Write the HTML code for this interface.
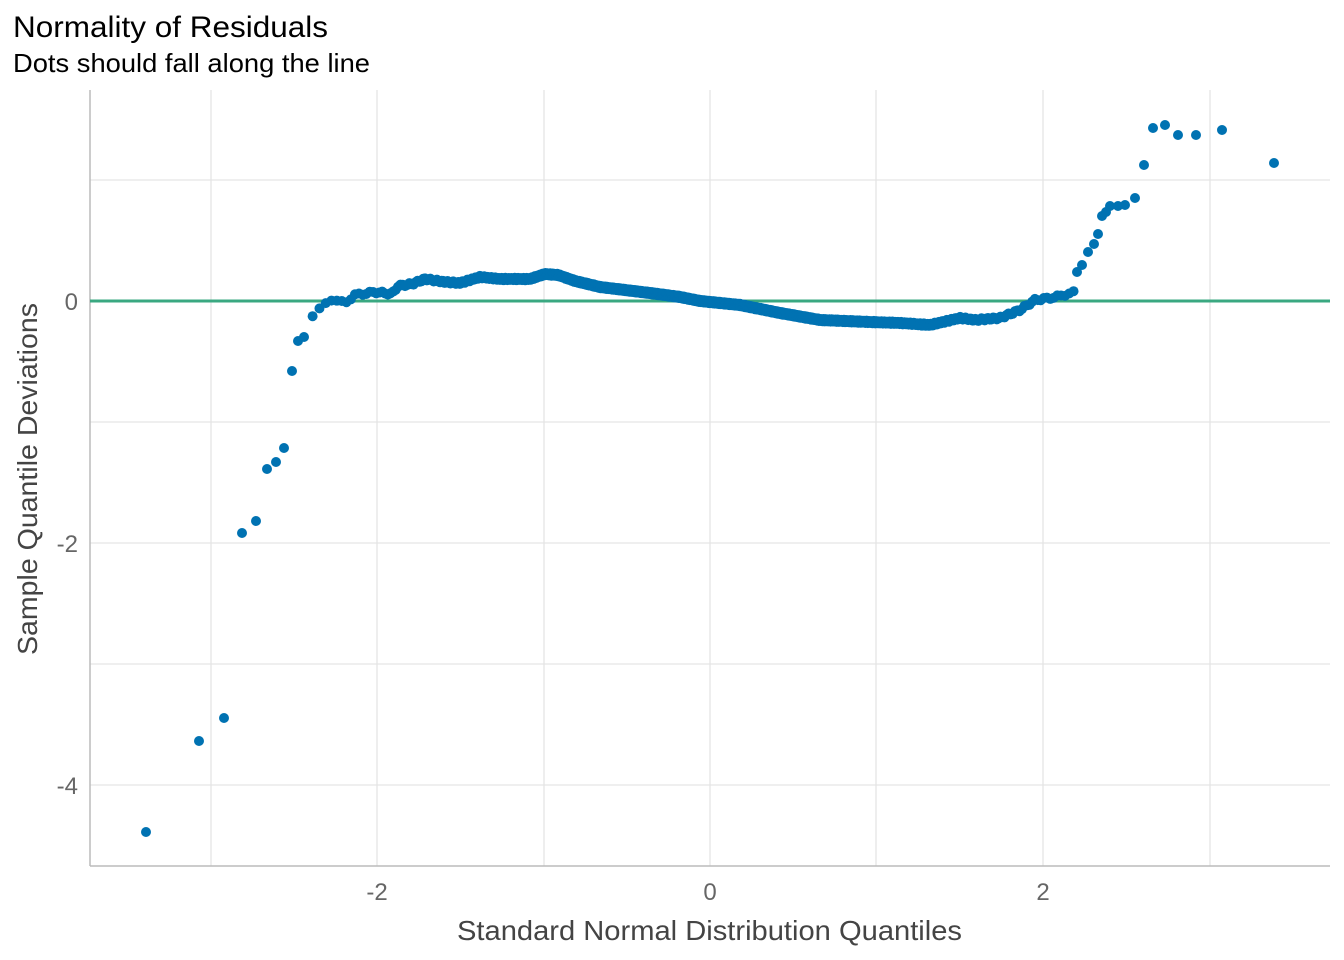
<!DOCTYPE html><html><head><style>body{margin:0;background:#fff}svg{display:block}text{font-family:"Liberation Sans",sans-serif}</style></head><body>
<svg id="s" width="1344" height="960" xmlns="http://www.w3.org/2000/svg">
<rect width="1344" height="960" fill="#fff"/>
<g stroke="#e5e5e5" stroke-width="1.3">
<line x1="211" y1="90" x2="211" y2="866"/><line x1="377" y1="90" x2="377" y2="866"/><line x1="544" y1="90" x2="544" y2="866"/><line x1="710" y1="90" x2="710" y2="866"/><line x1="876" y1="90" x2="876" y2="866"/><line x1="1043" y1="90" x2="1043" y2="866"/><line x1="1210" y1="90" x2="1210" y2="866"/>
<line x1="90" y1="180" x2="1330" y2="180"/><line x1="90" y1="301" x2="1330" y2="301"/><line x1="90" y1="422" x2="1330" y2="422"/><line x1="90" y1="543" x2="1330" y2="543"/><line x1="90" y1="664" x2="1330" y2="664"/><line x1="90" y1="785" x2="1330" y2="785"/>
</g>
<line x1="90" y1="90" x2="90" y2="866" stroke="#bbb" stroke-width="1.5"/>
<line x1="90" y1="866" x2="1330" y2="866" stroke="#bbb" stroke-width="1.5"/>
<line x1="90" y1="301" x2="1330" y2="301" stroke="#3aa881" stroke-width="3"/>
<g id="pts" fill="#0072b2"></g>
<g fill="#666" font-size="24">
<text x="377" y="900" text-anchor="middle">-2</text><text x="710" y="900" text-anchor="middle">0</text><text x="1043" y="900" text-anchor="middle">2</text>
<text x="78" y="310" text-anchor="end">0</text><text x="78" y="552" text-anchor="end">-2</text><text x="78" y="794" text-anchor="end">-4</text>
</g>
<text x="457" y="940" font-size="28" fill="#444" textLength="505" lengthAdjust="spacingAndGlyphs">Standard Normal Distribution Quantiles</text>
<text transform="translate(37,655) rotate(-90)" font-size="28" fill="#444" textLength="352" lengthAdjust="spacingAndGlyphs">Sample Quantile Deviations</text>
<text x="13" y="37" font-size="30" fill="#000" textLength="315" lengthAdjust="spacingAndGlyphs">Normality of Residuals</text>
<text x="13" y="72" font-size="26" fill="#000" textLength="357" lengthAdjust="spacingAndGlyphs">Dots should fall along the line</text>
</svg>
<script>
var g=document.getElementById('pts'),ns='http://www.w3.org/2000/svg';
function dot(x,y){var c=document.createElementNS(ns,'circle');c.setAttribute('cx',x);c.setAttribute('cy',y);c.setAttribute('r',5);g.appendChild(c);}
[[146,832],[199,741],[224,718],[242,533],[256,521],[267,469],[276,462],[284,448],[292,371],[298,341],[304,337],
[1077,272],[1082,265],[1088,252],[1094,244],[1098,234],[1102,216],[1106,212],[1110,206],[1118,206],[1125,205],[1135,198],[1144,165],[1153,128],[1165,125],[1178,135],[1196,135],[1222,130],[1274,163]].forEach(p=>dot(p[0],p[1]));
var K=[[310,318],[318,311],[330,299],[345,303],[355,295],[375,292],[392,294],[398,286],[412,284],[425,279],[445,282],[460,283],[480,277],[500,279],[530,279],[545,274],[558,275],[575,281],[600,287],[650,293],[680,297],[700,301],[740,305],[780,313],[820,320],[870,322],[900,323],[930,325],[960,318],[975,320],[1000,318],[1020,310],[1035,300],[1050,298],[1060,296],[1075,292]];
function f(x){for(var i=0;i<K.length-1;i++){if(x<=K[i+1][0]){var t=(x-K[i][0])/(K[i+1][0]-K[i][0]);return K[i][1]+t*(K[i+1][1]-K[i][1]);}}return K[K.length-1][1];}
function inv(p){var a=[-39.69683028665376,220.9460984245205,-275.9285104469687,138.357751867269,-30.66479806614716,2.506628277459239],b=[-54.47609879822406,161.5858368580409,-155.6989798598866,66.80131188771972,-13.28068155288572],c=[-0.007784894002430293,-0.3223964580411365,-2.400758277161838,-2.549732539343734,4.374664141464968,2.938163982698783],d=[0.007784695709041462,0.3224671290700398,2.445134137142996,3.754408661907416];var q,r;if(p<0.02425){q=Math.sqrt(-2*Math.log(p));return(((((c[0]*q+c[1])*q+c[2])*q+c[3])*q+c[4])*q+c[5])/((((d[0]*q+d[1])*q+d[2])*q+d[3])*q+1);}if(p>1-0.02425){q=Math.sqrt(-2*Math.log(1-p));return-(((((c[0]*q+c[1])*q+c[2])*q+c[3])*q+c[4])*q+c[5])/((((d[0]*q+d[1])*q+d[2])*q+d[3])*q+1);}q=p-0.5;r=q*q;return(((((a[0]*r+a[1])*r+a[2])*r+a[3])*r+a[4])*r+a[5])*q/(((((b[0]*r+b[1])*r+b[2])*r+b[3])*r+b[4])*r+1);}
var n=1000;for(var i=1;i<=n;i++){var x=710+166.5*inv((i-0.5)/n);if(x>=308&&x<=1076)dot(x,f(x)+Math.sin(i*1.7)*1.2);}
</script>
</body></html>
